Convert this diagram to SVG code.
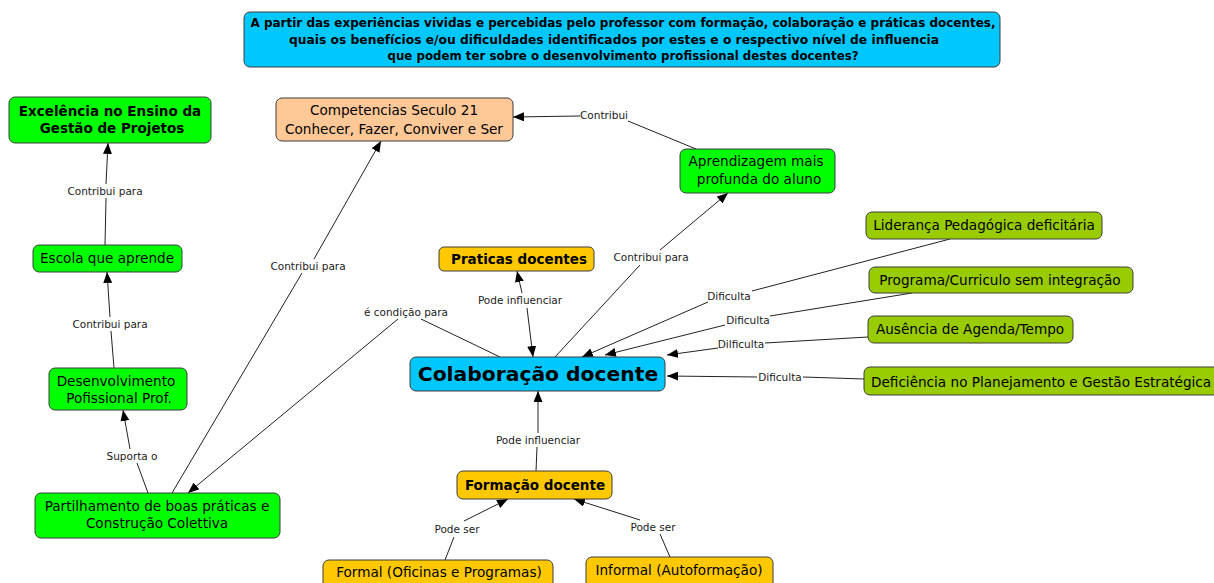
<svg xmlns="http://www.w3.org/2000/svg" width="1214" height="583" viewBox="0 0 1214 583">
<style>
text{font-family:"DejaVu Sans","Liberation Sans",sans-serif;fill:#000}
.n{stroke:#3c3c3c;stroke-width:1}
.g{fill:#00ff00}.o{fill:#99cc00}.y{fill:#ffc800}.b{fill:#00c8ff}.p{fill:#ffc896}
.t{font-size:13.6px;text-anchor:middle}
.tb{font-size:13.5px;font-weight:bold;text-anchor:middle}
.ti{font-size:12.5px;font-weight:bold;text-anchor:middle}
.lbl{font-size:10.5px;text-anchor:middle;fill:#222}
.c line{stroke:#222;stroke-width:1}
.a{marker-end:url(#ah)}
</style>
<defs>
<marker id="ah" markerUnits="userSpaceOnUse" markerWidth="11" markerHeight="9" refX="11" refY="4.5" orient="auto"><path d="M0,0 L11,4.5 L0,9 z" fill="#000"/></marker>
</defs>
<g id="connectors" class="c">
<line x1="105" y1="245" x2="106" y2="198"/><line class="a" x1="106" y1="184" x2="108" y2="143"/>
<line x1="114" y1="368" x2="111" y2="331"/><line class="a" x1="110" y1="317" x2="107" y2="272"/>
<line x1="148" y1="493" x2="137" y2="463"/><line class="a" x1="130" y1="449" x2="123" y2="410"/>
<line x1="172" y1="493" x2="302" y2="273"/><line class="a" x1="314" y1="259" x2="381" y2="141"/>
<line x1="500" y1="357" x2="421" y2="319"/><line class="a" x1="398" y1="319" x2="188" y2="493"/>
<line class="a" x1="527" y1="308" x2="533" y2="357"/><line class="a" x1="522" y1="293" x2="517" y2="271"/>
<line x1="555" y1="357" x2="640" y2="265"/><line class="a" x1="660" y1="250" x2="728" y2="193"/>
<line x1="696" y1="149" x2="628" y2="121"/><line class="a" x1="580" y1="116" x2="513" y2="117"/>
<line x1="950" y1="239" x2="752" y2="291"/><line class="a" x1="708" y1="302" x2="582" y2="357"/>
<line x1="912" y1="293" x2="770" y2="316"/><line class="a" x1="725" y1="325" x2="605" y2="355"/>
<line x1="868" y1="337" x2="765" y2="343"/><line class="a" x1="718" y1="348" x2="667" y2="355"/>
<line x1="864" y1="379" x2="803" y2="377"/><line class="a" x1="757" y1="377" x2="667" y2="376"/>
<line x1="536" y1="471" x2="537" y2="447"/><line class="a" x1="538" y1="433" x2="538" y2="391"/>
<line x1="445" y1="560" x2="454" y2="537"/><line class="a" x1="464" y1="521" x2="508" y2="499"/>
<line x1="670" y1="557" x2="660" y2="534"/><line class="a" x1="640" y1="520" x2="574" y2="499"/>
<text class="lbl" x="105" y="195">Contribui para</text>
<text class="lbl" x="110" y="328">Contribui para</text>
<text class="lbl" x="132" y="460">Suporta o</text>
<text class="lbl" x="308" y="270">Contribui para</text>
<text class="lbl" x="406" y="316">é condição para</text>
<text class="lbl" x="520" y="304">Pode influenciar</text>
<text class="lbl" x="651" y="261">Contribui para</text>
<text class="lbl" x="604" y="119">Contribui</text>
<text class="lbl" x="729" y="300">Dificulta</text>
<text class="lbl" x="748" y="324">Dificulta</text>
<text class="lbl" x="741" y="348">Dilficulta</text>
<text class="lbl" x="780" y="381">Dificulta</text>
<text class="lbl" x="538" y="444">Pode influenciar</text>
<text class="lbl" x="457" y="533">Pode ser</text>
<text class="lbl" x="653" y="531">Pode ser</text>
</g>
<g id="title">
<rect class="n b" x="244" y="12" width="756" height="55" rx="6"/>
<text class="ti" x="623" y="26.5" textLength="745" lengthAdjust="spacingAndGlyphs">A partir das experiências vividas e percebidas pelo professor com formação, colaboração e práticas docentes,</text>
<text class="ti" x="614" y="43.5" textLength="650" lengthAdjust="spacingAndGlyphs">quais os benefícios e/ou dificuldades identificados por estes e o respectivo nível de influencia</text>
<text class="ti" x="623" y="60" textLength="471" lengthAdjust="spacingAndGlyphs">que podem ter sobre o desenvolvimento profissional destes docentes?</text>
</g>
<g id="excelencia"><rect class="n g" x="9" y="97" width="202" height="46" rx="6"/><text class="tb" x="110" y="116">Excelência no Ensino da</text><text class="tb" x="112" y="133">Gestão de Projetos</text></g>
<g id="competencias"><rect class="n p" x="276" y="98" width="237" height="43" rx="6"/><text class="t" x="394" y="115">Competencias Seculo 21</text><text class="t" x="394" y="134">Conhecer, Fazer, Conviver e Ser</text></g>
<g id="aprendizagem"><rect class="n g" x="680" y="149" width="155" height="44" rx="6"/><text class="t" x="756" y="166">Aprendizagem mais</text><text class="t" x="759" y="184">profunda do aluno</text></g>
<g id="escola"><rect class="n g" x="33" y="245" width="149" height="27" rx="6"/><text class="t" x="107" y="263">Escola que aprende</text></g>
<g id="desenvolvimento"><rect class="n g" x="49" y="368" width="138" height="42" rx="6"/><text class="t" x="116" y="386">Desenvolvimento</text><text class="t" x="119" y="403">Pofissional Prof.</text></g>
<g id="partilhamento"><rect class="n g" x="35" y="493" width="245" height="45" rx="6"/><text class="t" x="157" y="511">Partilhamento de boas práticas e</text><text class="t" x="157" y="528">Construção Colettiva</text></g>
<g id="praticas"><rect class="n y" x="439" y="247" width="155" height="24" rx="5"/><text class="tb" x="519" y="264">Praticas docentes</text></g>
<g id="colaboracao"><rect class="n b" x="410" y="357" width="255" height="34" rx="6"/><text style="font-size:20.3px;font-weight:bold;text-anchor:middle" x="538" y="381">Colaboração docente</text></g>
<g id="formacao"><rect class="n y" x="457" y="471" width="155" height="28" rx="6"/><text class="tb" x="535" y="490">Formação docente</text></g>
<g id="formal"><rect class="n y" x="323" y="560" width="230" height="30" rx="6"/><text class="t" x="439" y="577">Formal (Oficinas e Programas)</text></g>
<g id="informal"><rect class="n y" x="586" y="557" width="187" height="33" rx="6"/><text class="t" x="679" y="575">Informal (Autoformação)</text></g>
<g id="lideranca"><rect class="n o" x="866" y="212" width="236" height="27" rx="6"/><text class="t" x="984" y="230">Liderança Pedagógica deficitária</text></g>
<g id="programa"><rect class="n o" x="869" y="267" width="264" height="26" rx="6"/><text class="t" x="1000" y="285">Programa/Curriculo sem integração</text></g>
<g id="ausencia"><rect class="n o" x="868" y="316" width="205" height="27" rx="6"/><text class="t" x="970" y="334">Ausência de Agenda/Tempo</text></g>
<g id="deficiencia"><rect class="n o" x="864" y="367" width="360" height="28" rx="6"/><text class="t" style="text-anchor:start" x="871" y="387">Deficiência no Planejamento e Gestão Estratégica</text></g>
</svg>
